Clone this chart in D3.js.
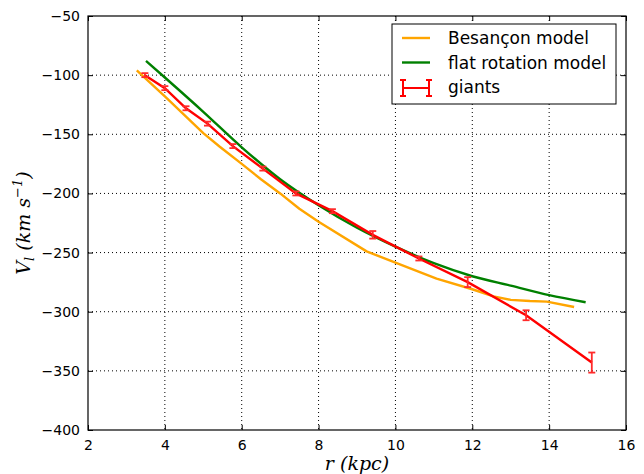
<!DOCTYPE html>
<html>
<head>
<meta charset="utf-8">
<script src="https://cdn.jsdelivr.net/npm/d3@7"></script>
<style>
  body { margin: 0; background: #fff; }
  svg { display: block; }
</style>
</head>
<body>
<svg id="chart" width="644" height="474"></svg>
<script>
// giants (points with error bars)
const giantR = [3.48, 4.00, 4.55, 5.11, 5.77, 6.55, 7.41, 8.36, 9.41, 10.61, 11.88, 13.40, 15.11];
const giantV = [-100, -111, -128, -141, -160, -179, -200, -215, -235, -255, -275, -303, -343];
const giantErr = [1.7, 1.7, 1.7, 1.7, 1.7, 1.7, 1.7, 1.7, 3.2, 1.7, 4.2, 4.2, 8.5];

// Besancon model curve
const besR = [3.27, 4.0, 5.0, 5.43, 6.0, 6.5, 7.0, 7.5, 8.0, 9.25, 10.0, 11.07, 12.0, 12.55, 13.0, 13.5, 13.94, 14.65];
const besV = [-96, -118, -149, -160.5, -175, -188, -200, -213, -224, -249, -258.5, -272, -281, -287, -290, -291, -291.5, -296];

// flat rotation model curve
const flatR = [3.51, 4.0, 5.0, 6.0, 7.0, 8.0, 9.0, 10.0, 11.0, 12.0, 13.0, 14.0, 14.95];
const flatV = [-88, -102, -131, -161, -188, -210, -229, -245, -259, -270, -278, -286, -292];

const xTicks = [2, 4, 6, 8, 10, 12, 14, 16];
const yTicks = [-400, -350, -300, -250, -200, -150, -100, -50];
const legendLabels = ["Besançon model", "flat rotation model", "giants"];

const margin = {top: 16, right: 18, bottom: 44, left: 88};
const width = 644 - margin.left - margin.right;
const height = 474 - margin.top - margin.bottom;

const svg = d3.select("#chart");
const g = svg.append("g")
    .attr("transform", "translate(" + margin.left + "," + margin.top + ")");

const x = d3.scaleLinear().domain([2, 16]).range([0, width]);
const y = d3.scaleLinear().domain([-400, -50]).range([height, 0]);

const fmt = d => d < 0 ? "\u2212" + Math.abs(d) : "" + d;

// grid
g.append("g")
    .selectAll("line.gx")
    .data(xTicks.slice(1, -1))
    .join("line")
    .attr("x1", d => x(d)).attr("x2", d => x(d))
    .attr("y1", 0).attr("y2", height)
    .attr("stroke", "#000")
    .attr("stroke-width", 1)
    .attr("stroke-dasharray", "1,3");
g.append("g")
    .selectAll("line.gy")
    .data(yTicks.slice(1, -1))
    .join("line")
    .attr("y1", d => y(d)).attr("y2", d => y(d))
    .attr("x1", 0).attr("x2", width)
    .attr("stroke", "#000")
    .attr("stroke-width", 1)
    .attr("stroke-dasharray", "1,3");

// axes (classic matplotlib look: ticks inward on all four sides)
const styleAxis = sel => {
    sel.select(".domain").remove();
    sel.selectAll("text")
        .attr("font-family", "DejaVu Sans, sans-serif")
        .attr("font-size", 14)
        .attr("fill", "#000");
    sel.selectAll("line").attr("stroke", "#000");
};

g.append("g")
    .attr("transform", "translate(0," + height + ")")
    .call(d3.axisBottom(x).tickValues(xTicks).tickFormat(fmt).tickSizeInner(-5).tickPadding(10))
    .call(styleAxis);
g.append("g")
    .call(d3.axisTop(x).tickValues(xTicks).tickFormat("").tickSizeInner(-5))
    .call(styleAxis);
g.append("g")
    .call(d3.axisLeft(y).tickValues(yTicks).tickFormat(fmt).tickSizeInner(-5).tickPadding(8))
    .call(styleAxis);
g.append("g")
    .attr("transform", "translate(" + width + ",0)")
    .call(d3.axisRight(y).tickValues(yTicks).tickFormat("").tickSizeInner(-5))
    .call(styleAxis);

// curves
const line = d3.line().x(d => x(d[0])).y(d => y(d[1]));

g.append("path")
    .datum(d3.zip(besR, besV))
    .attr("d", line.curve(d3.curveLinear))
    .attr("fill", "none")
    .attr("stroke", "orange")
    .attr("stroke-width", 2.4)
    .attr("stroke-linejoin", "round");

g.append("path")
    .datum(d3.zip(flatR, flatV))
    .attr("d", line.curve(d3.curveMonotoneX))
    .attr("fill", "none")
    .attr("stroke", "green")
    .attr("stroke-width", 2.4);

g.append("path")
    .datum(d3.zip(giantR, giantV))
    .attr("d", line.curve(d3.curveLinear))
    .attr("fill", "none")
    .attr("stroke", "red")
    .attr("stroke-width", 2.4);

// error bars
const capW = 3.5;
const bars = g.append("g")
    .selectAll("g")
    .data(d3.zip(giantR, giantV, giantErr))
    .join("g")
    .attr("stroke", "#ff2a2a")
    .attr("stroke-width", 1.8);
bars.append("line")
    .attr("x1", d => x(d[0])).attr("x2", d => x(d[0]))
    .attr("y1", d => y(d[1] - d[2])).attr("y2", d => y(d[1] + d[2]));
bars.append("line")
    .attr("x1", d => x(d[0]) - capW).attr("x2", d => x(d[0]) + capW)
    .attr("y1", d => y(d[1] - d[2])).attr("y2", d => y(d[1] - d[2]));
bars.append("line")
    .attr("x1", d => x(d[0]) - capW).attr("x2", d => x(d[0]) + capW)
    .attr("y1", d => y(d[1] + d[2])).attr("y2", d => y(d[1] + d[2]));

// frame
g.append("rect")
    .attr("width", width).attr("height", height)
    .attr("fill", "none")
    .attr("stroke", "#000")
    .attr("stroke-width", 1.2);

// legend
const legend = svg.append("g").attr("transform", "translate(392,24)");
legend.append("rect")
    .attr("width", 224).attr("height", 80)
    .attr("fill", "#fff")
    .attr("stroke", "#000")
    .attr("stroke-width", 1);
const legendColors = ["orange", "green", "red"];
legendLabels.forEach((label, i) => {
    const ly = 14 + i * 24.5;
    if (i < 2) {
        legend.append("line")
            .attr("x1", 10).attr("x2", 38)
            .attr("y1", ly).attr("y2", ly)
            .attr("stroke", legendColors[i])
            .attr("stroke-width", 2.4);
    } else {
        const eb = legend.append("g").attr("stroke", "red").attr("stroke-width", 2);
        eb.append("line").attr("x1", 11).attr("x2", 37).attr("y1", ly + 1).attr("y2", ly + 1);
        [11, 37].forEach(cx => {
            eb.append("line").attr("x1", cx).attr("x2", cx).attr("y1", ly - 7).attr("y2", ly + 9);
            eb.append("line").attr("x1", cx - 3).attr("x2", cx + 3).attr("y1", ly - 7).attr("y2", ly - 7);
            eb.append("line").attr("x1", cx - 3).attr("x2", cx + 3).attr("y1", ly + 9).attr("y2", ly + 9);
        });
    }
    legend.append("text")
        .attr("x", 56).attr("y", ly + 6)
        .attr("font-family", "DejaVu Sans, sans-serif")
        .attr("font-size", 17)
        .text(label);
});

// axis labels
svg.append("text")
    .attr("x", margin.left + width / 2)
    .attr("y", 470)
    .attr("text-anchor", "middle")
    .attr("font-family", "DejaVu Serif, serif")
    .attr("font-style", "italic")
    .attr("font-size", 19)
    .text("r (kpc)");

const yl = svg.append("text")
    .attr("transform", "translate(30," + (margin.top + height / 2) + ") rotate(-90)")
    .attr("text-anchor", "middle")
    .attr("font-family", "DejaVu Serif, serif")
    .attr("font-style", "italic")
    .attr("font-size", 19);
yl.append("tspan").text("V");
yl.append("tspan").attr("font-size", 13).attr("dy", 4).text("l");
yl.append("tspan").attr("dy", -4).text(" (km s");
yl.append("tspan").attr("font-size", 13).attr("dy", -8).text("\u22121");
yl.append("tspan").attr("dy", 8).text(")");
</script>
</body>
</html>
